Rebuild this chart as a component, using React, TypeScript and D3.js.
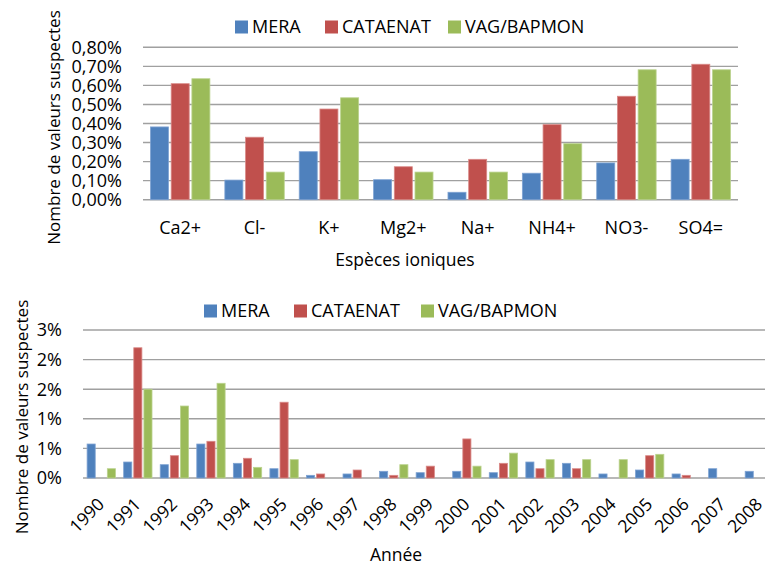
import React from "react";
import * as d3 from "d3";

const seriesNames = ["MERA", "CATAENAT", "VAG/BAPMON"];
const seriesColors = ["#4F81BD", "#C0504D", "#9BBB59"];
const seriesStroke = ["#7FA3D3", "#D98A88", "#BBD38F"];

// Chart 1: ionic species (values in %)
const ions = ["Ca2+", "Cl-", "K+", "Mg2+", "Na+", "NH4+", "NO3-", "SO4="];
const ionMERA = [0.382, 0.103, 0.252, 0.105, 0.039, 0.139, 0.193, 0.212];
const ionCATAENAT = [0.609, 0.328, 0.476, 0.173, 0.212, 0.394, 0.543, 0.711];
const ionVAG = [0.635, 0.145, 0.535, 0.145, 0.145, 0.294, 0.682, 0.682];
const ionTicks = [0, 0.1, 0.2, 0.3, 0.4, 0.5, 0.6, 0.7, 0.8];
const ionTickLabels = ["0,00%", "0,10%", "0,20%", "0,30%", "0,40%", "0,50%", "0,60%", "0,70%", "0,80%"];

// Chart 2: years (values in %)
const years = ["1990", "1991", "1992", "1993", "1994", "1995", "1996", "1997", "1998", "1999",
  "2000", "2001", "2002", "2003", "2004", "2005", "2006", "2007", "2008"];
const yearMERA = [0.574, 0.27, 0.225, 0.574, 0.248, 0.157, 0.045, 0.068, 0.113, 0.09,
  0.113, 0.09, 0.27, 0.248, 0.068, 0.135, 0.068, 0.157, 0.113];
const yearCATAENAT = [0, 2.2, 0.377, 0.62, 0.333, 1.28, 0.068, 0.135, 0.045, 0.2,
  0.66, 0.248, 0.157, 0.157, 0, 0.377, 0.045, 0, 0];
const yearVAG = [0.157, 1.5, 1.216, 1.6, 0.18, 0.31, 0, 0, 0.225, 0,
  0.2, 0.42, 0.31, 0.31, 0.31, 0.4, 0, 0, 0];
const yearTicks = [0, 0.5, 1, 1.5, 2, 2.5];
const yearTickLabels = ["0%", "1%", "1%", "2%", "2%", "3%"];

const FONT = "'Open Sans', sans-serif";
const FS = 17.5;
const FST = 18;
const GRID = "#A0A0A0";

function Legend({ x, y }: { x: number[]; y: number }) {
  return (
    <g>
      {seriesNames.map((n, i) => (
        <g key={n}>
          <rect x={x[i]} y={y - 6.5} width={13} height={13} fill={seriesColors[i]} />
          <text x={x[i] + 17} y={y} dy="0.36em" fontSize={FST} fontFamily={FONT} fill="#000">{n}</text>
        </g>
      ))}
    </g>
  );
}

function Bars({ cats, data, x0, x1, y0, y1, max, barFrac }: any) {
  const xb = d3.scaleBand().domain(cats).range([x0, x1]).paddingInner(0).paddingOuter(0);
  const y = d3.scaleLinear().domain([0, max]).range([y0, y1]);
  const cw = xb.bandwidth();
  const groupW = cw * barFrac;
  const xs = d3.scaleBand().domain(["0", "1", "2"]).range([0, groupW]);
  const slot = xs.bandwidth();
  const bw = slot - Math.max(2, slot * 0.13);
  return (
    <g>
      {data.map((vals: number[], si: number) =>
        vals.map((v, ci) => {
          if (v <= 0) return null;
          const gx = (xb(cats[ci]) as number) + (cw - groupW) / 2 + (xs(String(si)) as number) + (slot - bw) / 2;
          return (
            <rect key={si + "-" + ci} x={gx} y={y(v)} width={bw} height={y0 - y(v)}
              fill={seriesColors[si]} stroke={seriesStroke[si]} strokeWidth={0.8} />
          );
        })
      )}
    </g>
  );
}

export default function App() {
  // chart 1 geometry
  const t = { x0: 143, x1: 738, y0: 199.7, y1: 47.3 };
  const ty = d3.scaleLinear().domain([0, 0.8]).range([t.y0, t.y1]);
  const tx = d3.scaleBand().domain(ions).range([t.x0, t.x1]);
  // chart 2 geometry
  const b = { x0: 83, x1: 83 + 19 * 36.56, y0: 478, y1: 330 };
  const by = d3.scaleLinear().domain([0, 2.5]).range([b.y0, b.y1]);
  const bx = d3.scaleBand().domain(years).range([b.x0, b.x1]);

  return (
    <div style={{ position: "absolute", left: 0, top: 0, width: 765, height: 564, background: "#fff" }}>
      <svg width={765} height={564} style={{ display: "block", overflow: "hidden" }}>
        <rect width={765} height={564} fill="#fff" />
        {/* ===== Chart 1 ===== */}
        {ionTicks.map((v, i) => (
          <g key={"t" + i}>
            <line x1={t.x0} x2={t.x1} y1={ty(v)} y2={ty(v)} stroke={GRID} strokeWidth={1.4} />
            <text x={122} y={ty(v)} dy="0.36em" textAnchor="end" fontSize={FST} fontFamily={FONT}>{ionTickLabels[i]}</text>
          </g>
        ))}
        <Bars cats={ions} data={[ionMERA, ionCATAENAT, ionVAG]} x0={t.x0} x1={t.x1} y0={t.y0} y1={t.y1} max={0.8} barFrac={0.835} />
        {ions.map((c) => (
          <text key={c} x={(tx(c) as number) + tx.bandwidth() / 2} y={228} dy="0.36em" textAnchor="middle" fontSize={FST} fontFamily={FONT}>{c}</text>
        ))}
        <text x={405} y={260} dy="0.36em" textAnchor="middle" fontSize={FS} fontFamily={FONT}>Espèces ioniques</text>
        <text transform="translate(54,127.5) rotate(-90)" dy="0.36em" textAnchor="middle" fontSize={17} fontFamily={FONT}>Nombre de valeurs suspectes</text>
        <Legend x={[235, 325, 448]} y={27} />

        {/* ===== Chart 2 ===== */}
        {yearTicks.map((v, i) => (
          <g key={"b" + i}>
            <line x1={b.x0} x2={b.x1} y1={by(v)} y2={by(v)} stroke={GRID} strokeWidth={1.4} />
            <text x={62} y={by(v)} dy="0.36em" textAnchor="end" fontSize={FST} fontFamily={FONT}>{yearTickLabels[i]}</text>
          </g>
        ))}
        <Bars cats={years} data={[yearMERA, yearCATAENAT, yearVAG]} x0={b.x0} x1={b.x1} y0={b.y0} y1={b.y1} max={2.5} barFrac={0.83} />
        {years.map((c) => (
          <text key={c} transform={`translate(${(bx(c) as number) + bx.bandwidth() / 2 - 0.5},${501}) rotate(-45)`}
            textAnchor="end" dy="0.36em" fontSize={FS} fontFamily={FONT}>{c}</text>
        ))}
        <text x={396} y={554.5} dy="0.36em" textAnchor="middle" fontSize={FS} fontFamily={FONT}>Année</text>
        <text transform="translate(22,417) rotate(-90)" dy="0.36em" textAnchor="middle" fontSize={17} fontFamily={FONT}>Nombre de valeurs suspectes</text>
        <Legend x={[204, 294, 421]} y={311} />
      </svg>
    </div>
  );
}
